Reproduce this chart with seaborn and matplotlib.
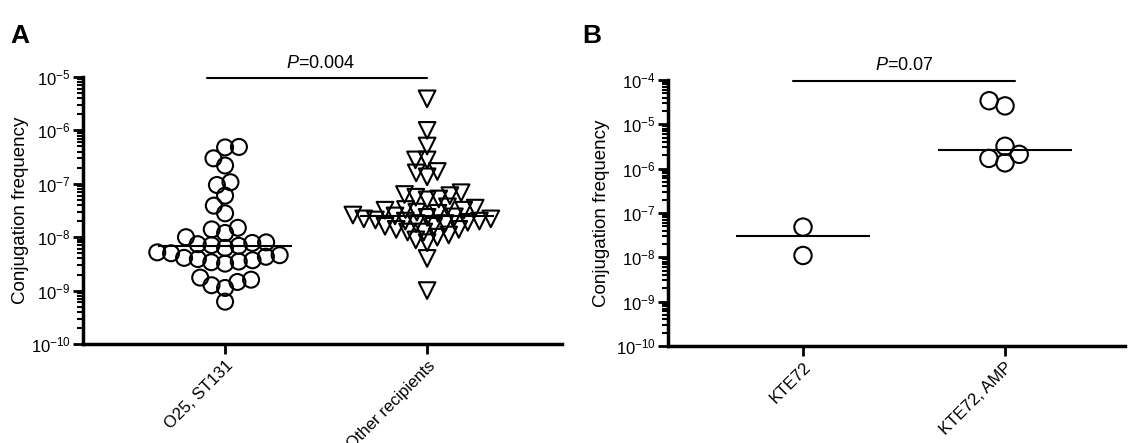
import numpy as np
import pandas as pd
import matplotlib
matplotlib.use("Agg")
import matplotlib.pyplot as plt
import seaborn as sns
from matplotlib.ticker import LogLocator, NullFormatter

sns.set_theme(style="ticks")
plt.rcParams["font.family"] = ["Liberation Sans", "DejaVu Sans"]
plt.rcParams["mathtext.fontset"] = "custom"
plt.rcParams["mathtext.rm"] = "Liberation Sans"
plt.rcParams["mathtext.it"] = "Liberation Sans:italic"
plt.rcParams["axes.unicode_minus"] = False
for k in ["text.color", "axes.labelcolor", "xtick.color", "ytick.color", "axes.edgecolor"]:
    plt.rcParams[k] = "black"

# ---- data ----
labels_a = ["O25, ST131", "Other recipients"]
labels_b = ["KTE72", "KTE72, AMP"]

o25_st131 = [4.9e-7, 4.8e-7, 3.0e-7, 2.2e-7, 1.07e-7, 9.5e-8, 6.0e-8, 3.9e-8,
             2.8e-8, 1.5e-8, 1.4e-8, 1.2e-8, 1.0e-8, 8.0e-9, 7.8e-9, 7.4e-9,
             7.1e-9, 6.9e-9, 6.3e-9, 5.2e-9, 5.0e-9, 4.6e-9, 4.3e-9, 4.1e-9,
             3.9e-9, 3.7e-9, 3.5e-9, 3.4e-9, 3.2e-9, 1.75e-9, 1.6e-9, 1.45e-9,
             1.26e-9, 1.12e-9, 6.2e-10]

other_recipients = [3.9e-6, 1.0e-6, 5.1e-7, 2.8e-7, 2.8e-7, 1.7e-7, 1.6e-7,
                    1.35e-7, 6.8e-8, 6.3e-8, 6.0e-8, 5.6e-8, 5.2e-8, 5.0e-8,
                    3.7e-8, 3.5e-8, 3.3e-8, 3.2e-8, 3.2e-8, 2.95e-8, 2.8e-8,
                    2.6e-8, 2.5e-8, 2.35e-8, 2.2e-8, 2.1e-8, 1.9e-8, 2.4e-8,
                    2.2e-8, 2.0e-8, 1.8e-8, 1.6e-8, 1.4e-8, 1.25e-8, 1.1e-8,
                    1.0e-8, 8.9e-9, 7.9e-9, 2.0e-8, 1.8e-8, 1.6e-8, 1.4e-8,
                    1.25e-8, 4.0e-9, 1.0e-9]

kte72 = [4.8e-8, 1.1e-8]
kte72_amp = [3.4e-5, 2.6e-5, 3.2e-6, 2.1e-6, 1.7e-6, 1.35e-6]

p_a = "$P$=0.004"
p_b = "$P$=0.07"

df_a = pd.DataFrame({
    "group": [labels_a[0]] * len(o25_st131) + [labels_a[1]] * len(other_recipients),
    "freq": o25_st131 + other_recipients,
})
df_b = pd.DataFrame({
    "group": [labels_b[0]] * len(kte72) + [labels_b[1]] * len(kte72_amp),
    "freq": kte72 + kte72_amp,
})

fig = plt.figure(figsize=(11.3, 4.43), dpi=100)
ax_a = fig.add_axes([0.0735, 0.2235, 0.4239, 0.6027])
ax_b = fig.add_axes([0.5912, 0.219, 0.4044, 0.6005])

pt_kw = dict(facecolor="none", edgecolor="black", linewidth=1.5)

for ax in (ax_a, ax_b):
    ax.set_yscale("log")

# swarm layout uses a smaller "packing" size; markers get redrawn bigger so they overlap
swarm_size = {8: ("o", 11.5), 6.5: ("v", 12), 10: ("o", 12.5)}
sns.swarmplot(data=df_a[df_a.group == labels_a[0]], x="group", y="freq",
              order=labels_a, marker="o", size=8, ax=ax_a, **pt_kw)
sns.swarmplot(data=df_a[df_a.group == labels_a[1]], x="group", y="freq",
              order=labels_a, marker="v", size=6.5, ax=ax_a, **pt_kw)
sns.swarmplot(data=df_b, x="group", y="freq", order=labels_b,
              marker="o", size=10, ax=ax_b, **pt_kw)

ax_a.set_ylim(1e-10, 1e-5)
ax_b.set_ylim(1e-10, 1e-4)
ax_a.set_xlim(-0.703, 1.668)
ax_b.set_xlim(-0.668, 1.594)

# freeze the swarm positions, then redraw at full marker size
fig.canvas.draw()
for ax in (ax_a, ax_b):
    for coll in list(ax.collections):
        xy = np.asarray(coll.get_offsets())
        key = round(float(np.sqrt(coll.get_sizes()[0])), 2)
        coll.remove()
        if len(xy) == 0:
            continue
        mk, s = swarm_size[key]
        ax.scatter(xy[:, 0], xy[:, 1], marker=mk, s=s ** 2, zorder=2, **pt_kw)

# median lines
for ax, groups in ((ax_a, [o25_st131, other_recipients]), (ax_b, [kte72, kte72_amp])):
    for i, vals in enumerate(groups):
        ax.hlines(np.median(vals), i - 0.33, i + 0.33, color="black", lw=1.5, zorder=3)

ax_a.set_ylim(1e-10, 1e-5)
ax_b.set_ylim(1e-10, 1e-4)
ax_a.set_xlim(-0.703, 1.668)
ax_b.set_xlim(-0.668, 1.594)

# significance bars
ax_a.plot([-0.09, 1.0], [10 ** -5.02] * 2, color="black", lw=1.5, clip_on=False)
ax_a.text(0.47, 10 ** -4.74, p_a, ha="center", va="center", fontsize=13)
ax_b.plot([-0.05, 1.05], [10 ** -4.02] * 2, color="black", lw=1.5, clip_on=False)
ax_b.text(0.5, 10 ** -3.68, p_b, ha="center", va="center", fontsize=13)

for ax, labels, pad in ((ax_a, labels_a, 1), (ax_b, labels_b, 4)):
    sns.despine(ax=ax)
    ax.spines["left"].set_linewidth(2.5)
    ax.spines["bottom"].set_linewidth(2.5)
    ax.yaxis.set_major_locator(LogLocator(base=10, numticks=20))
    ax.yaxis.set_minor_locator(LogLocator(base=10, subs=np.arange(2, 10), numticks=20))
    ax.yaxis.set_minor_formatter(NullFormatter())
    ax.tick_params(axis="y", which="major", length=7, width=2, labelsize=12, pad=2)
    ax.tick_params(axis="y", which="minor", length=4, width=1.5)
    ax.tick_params(axis="x", which="major", length=7, width=2, labelsize=12, pad=3)
    ax.set_xlabel("")
    ax.set_ylabel("Conjugation frequency", fontsize=13.5, labelpad=pad)
    ax.set_xticks(range(len(labels)))
    ax.set_xticklabels(labels, rotation=45, ha="right", rotation_mode="anchor")

fig.text(0.009, 0.945, "A", fontsize=19, fontweight="bold", va="top")
fig.text(0.515, 0.945, "B", fontsize=19, fontweight="bold", va="top")

fig.savefig("out.png", dpi=100)
